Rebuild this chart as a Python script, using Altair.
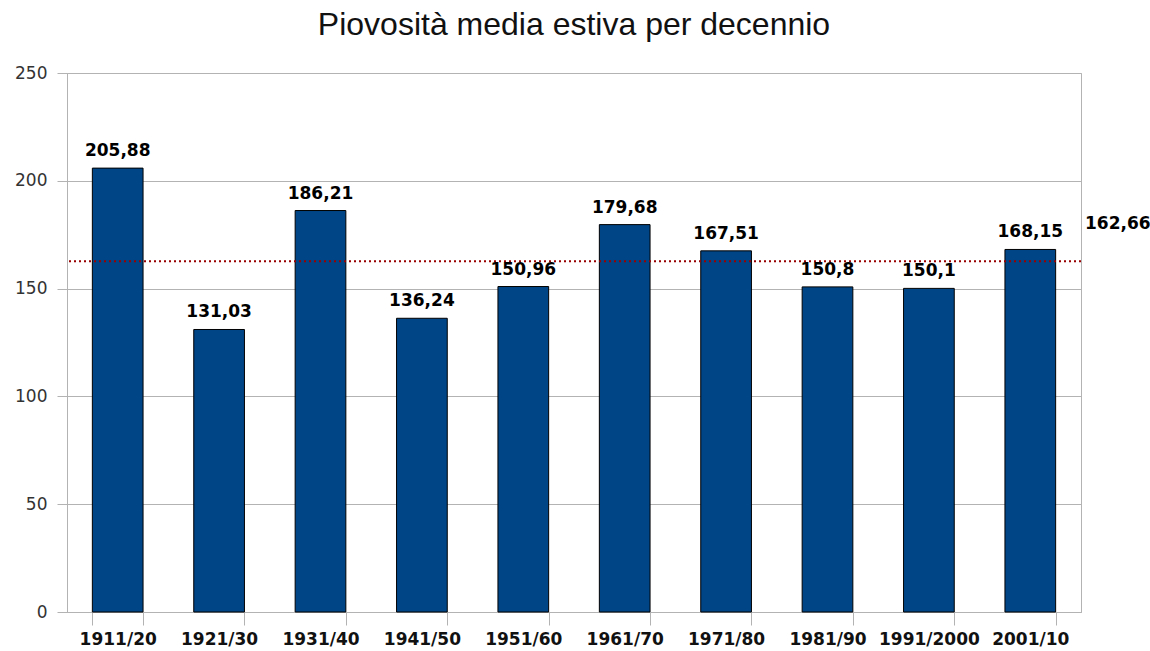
import altair as alt
import pandas as pd

decades = ["1911/20", "1921/30", "1931/40", "1941/50", "1951/60",
           "1961/70", "1971/80", "1981/90", "1991/2000", "2001/10"]
values = [205.88, 131.03, 186.21, 136.24, 150.96, 179.68, 167.51, 150.8, 150.1, 168.15]
labels = ["205,88", "131,03", "186,21", "136,24", "150,96",
          "179,68", "167,51", "150,8", "150,1", "168,15"]
mean_value = [162.66]
mean_label = ["162,66"]

df = pd.DataFrame({"decade": decades, "value": values, "label": labels})
mdf = pd.DataFrame({"value": mean_value, "label": mean_label})

GRID = "#b3b3b3"

x_enc = alt.X("decade:N", sort=decades, title=None,
              scale=alt.Scale(paddingInner=0.5, paddingOuter=0.25),
              axis=alt.Axis(labelAngle=0, tickBand="extent", tickSize=13,
                            tickColor=GRID, domainColor=GRID, labelPadding=6,
                            labelFont="DejaVu Sans", labelFontWeight="bold",
                            labelFontSize=17, labelColor="#111111", grid=False))
y_enc = alt.Y("value:Q", title=None,
              scale=alt.Scale(domain=[0, 250], nice=False),
              axis=alt.Axis(values=[0, 50, 100, 150, 200, 250], tickSize=10,
                            tickColor=GRID, domainColor=GRID, gridColor=GRID,
                            labelPadding=10, labelFont="DejaVu Sans",
                            labelFontSize=17, labelColor="#333333"))

bars = alt.Chart(df).mark_bar(color="#004586", stroke="#000000", strokeWidth=1).encode(
    x=x_enc, y=y_enc)

rule = alt.Chart(mdf).mark_rule(color="#990000", strokeDash=[2, 3], strokeWidth=2).encode(
    y=alt.Y("value:Q"))

texts = alt.Chart(df).mark_text(font="DejaVu Sans", fontWeight="bold", fontSize=17,
                                baseline="alphabetic", dy=-12, color="#000000").encode(
    x=alt.X("decade:N", sort=decades), y=alt.Y("value:Q"), text="label:N")

mtext = alt.Chart(mdf).mark_text(font="DejaVu Sans", fontWeight="bold", fontSize=17,
                                 baseline="alphabetic", align="left", dy=-32,
                                 color="#000000").encode(
    x=alt.value(1018), y=alt.Y("value:Q"), text="label:N")

chart = alt.layer(bars, rule, texts, mtext).properties(
    width=1014, height=539,
    title=alt.Title("Piovosità media estiva per decennio", font="Liberation Sans",
                    fontSize=32, fontWeight="normal", color="#111111",
                    anchor="middle", baseline="alphabetic", offset=-3),
    autosize=alt.AutoSizeParams(type="none"),
    padding={"left": 67, "top": 73, "right": 69, "bottom": 39},
    background="white",
).configure_view(stroke=GRID, strokeWidth=1)

chart.save("out.html", embed_options={"renderer": "svg", "actions": False})
